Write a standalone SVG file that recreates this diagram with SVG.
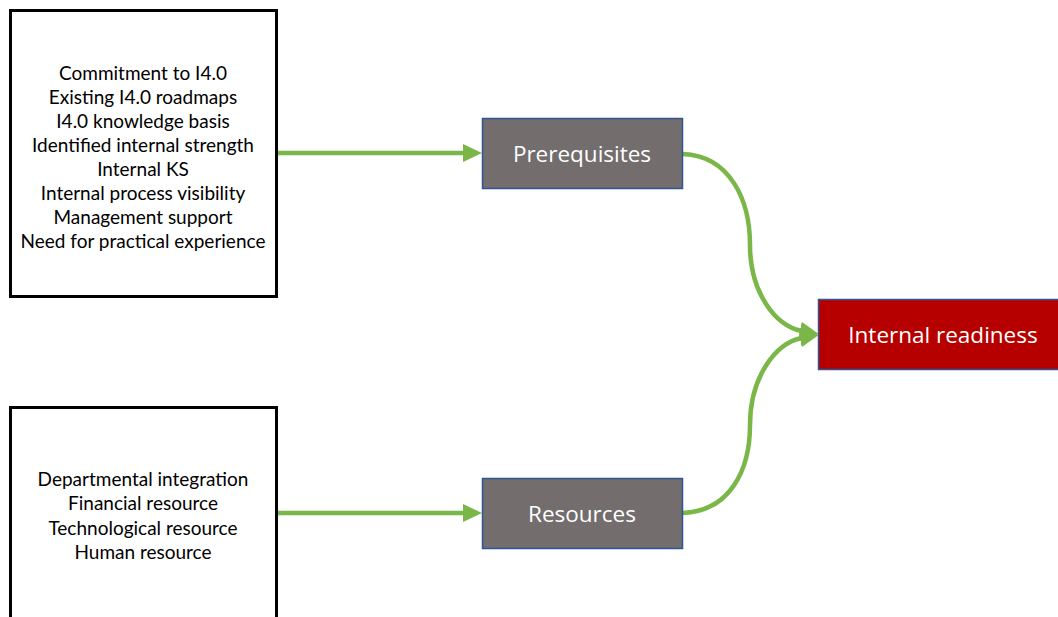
<svg xmlns="http://www.w3.org/2000/svg" width="1058" height="617" viewBox="0 0 1058 617">
<style>
.src{fill:#fff;stroke:#000;stroke-width:3}
.lst{font-family:Lato,"Liberation Sans",Arial,sans-serif;font-size:19px;fill:#000;text-anchor:middle;dominant-baseline:central}
.mid{fill:#736d6d;stroke:#2f5597;stroke-width:1.5}
.lbl{font-family:"Open Sans","Liberation Sans",sans-serif;font-size:22.5px;fill:#fff;text-anchor:middle;dominant-baseline:central}
.con{fill:none;stroke:#7ab648;stroke-width:4.5}
</style>
<defs>
<marker id="ah" markerUnits="userSpaceOnUse" markerWidth="20" markerHeight="20" viewBox="0 0 20 20" refX="2" refY="10" orient="auto">
<path d="M0,1 L19,10 L0,19 Z" fill="#7ab648"/>
</marker>
</defs>
<rect width="1058" height="617" fill="#fff"/>
<g id="connectors">
<path class="con" d="M277,153 L465,153" marker-end="url(#ah)"/>
<path class="con" d="M277,513 L465,513" marker-end="url(#ah)"/>
<path class="con" d="M683,154 C730,156 750,200 750,245 C750,292 775,326 802,331" marker-end="url(#ah)"/>
<path class="con" d="M683,513 C730,511 750,470 750,425 C750,378 775,343 802,338" marker-end="url(#ah)"/>
</g>
<g id="factors-prerequisites">
<rect class="src" x="10.5" y="10.5" width="266" height="286"/>
<text class="lst" x="143" y="72">Commitment to I4.0</text>
<text class="lst" x="143" y="96">Existing I4.0 roadmaps</text>
<text class="lst" x="143" y="120">I4.0 knowledge basis</text>
<text class="lst" x="143" y="144">Identified internal strength</text>
<text class="lst" x="143" y="168">Internal KS</text>
<text class="lst" x="143" y="192">Internal process visibility</text>
<text class="lst" x="143" y="216">Management support</text>
<text class="lst" x="143" y="240">Need for practical experience</text>
</g>
<g id="factors-resources">
<rect class="src" x="10.5" y="407.5" width="266" height="220"/>
<text class="lst" x="143" y="478">Departmental integration</text>
<text class="lst" x="143" y="502">Financial resource</text>
<text class="lst" x="143" y="527">Technological resource</text>
<text class="lst" x="143" y="551">Human resource</text>
</g>
<g id="prerequisites">
<rect class="mid" x="482.5" y="118.5" width="200" height="70"/>
<text class="lbl" x="582" y="153">Prerequisites</text>
</g>
<g id="resources">
<rect class="mid" x="482.5" y="478.5" width="200" height="70"/>
<text class="lbl" x="582" y="513">Resources</text>
</g>
<g id="internal-readiness">
<rect x="818.5" y="299.5" width="250" height="70" fill="#b60000" stroke="#2f5597" stroke-width="1.5"/>
<text class="lbl" x="943" y="334">Internal readiness</text>
</g>
</svg>
